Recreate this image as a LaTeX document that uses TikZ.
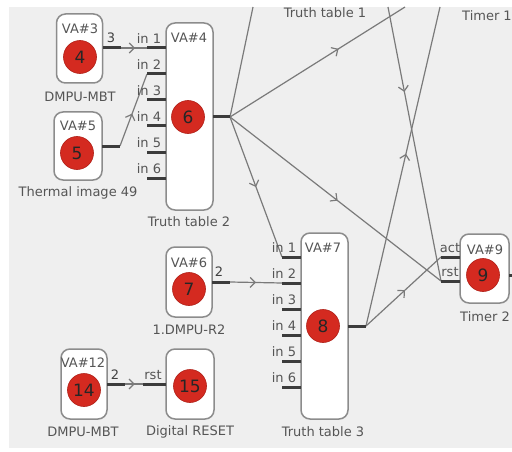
\documentclass[tikz,border=0pt]{standalone}
\usepackage{fontspec}
\setmainfont{DejaVu Sans}
\usetikzlibrary{arrows.meta,decorations.markings}
\definecolor{bg}{HTML}{EFEFEF}
\definecolor{wire}{HTML}{7A7A7A}
\definecolor{stubc}{HTML}{3C3C3C}
\definecolor{boxc}{HTML}{8C8C8C}
\definecolor{dotred}{HTML}{D42A20}
\definecolor{dotedge}{HTML}{B01E16}
\definecolor{txt}{HTML}{555555}
\tikzset{
  box/.style={draw=boxc, line width=1.5pt, fill=white, rounded corners=9pt, inner sep=0pt},
  dot/.style={circle, fill=dotred, draw=dotedge, line width=0.6pt, minimum size=33pt, inner sep=0pt, font=\fontsize{17}{17}\selectfont, text=black!85},
  lbl/.style={font=\fontsize{13}{13}\selectfont, text=txt, inner sep=0pt},
  num/.style={font=\fontsize{13}{13}\selectfont, text=black!75, inner sep=0pt},
  stubline/.style={draw=stubc, line width=3pt},
  wireline/.style={color=wire, line width=1.2pt},
  arr/.style={postaction={decorate}, decoration={markings, mark=at position #1 with {\arrow{Straight Barb[length=5pt,width=10pt]}}}},
}
\begin{document}
\begin{tikzpicture}[x=1pt,y=-1pt]
\useasboundingbox (0,0) rectangle (512,452);
\fill[bg] (9,7) rectangle (512,448);
\begin{scope}
\clip (9,7) rectangle (512,448);
% ---- connection points
\coordinate (o3) at (121,48);
\coordinate (o4) at (230,117);
\coordinate (o5) at (120,146);
\coordinate (o6) at (230,282);
\coordinate (o7) at (366,326);
\coordinate (o12) at (125,384);
\coordinate (r15) at (143,384);
\coordinate (a9) at (441,257);
\coordinate (r9) at (441,281);
\coordinate (top1) at (253,7);
\coordinate (top2) at (405,7);
\coordinate (top3) at (388,7);
\coordinate (top4) at (440,7);
\foreach \k/\y in {1/48,2/74,3/100,4/126,5/152,6/178}{\coordinate (i4-\k) at (147,\y);}
\foreach \k/\y in {1/257,2/283,3/309,4/335,5/361,6/387}{\coordinate (i7-\k) at (282,\y);}
% ---- wires
\draw[wireline] (o4) -- (top1);
\draw[wireline, arr=0.62] (o4) -- (top2);
\draw[wireline, arr=0.51] (o4) -- (r9);
\draw[wireline, arr=0.5] (o4) -- (i7-1);
\draw[wireline, arr=0.31] (top3) -- (r9);
\draw[wireline, arr=0.54] (o7) -- (top4);
\draw[wireline, arr=0.52] (o7) -- (a9);
\draw[wireline, arr=0.5] (o6) -- (i7-2);
\draw[wireline, arr=0.54] (o3) -- (i4-1);
\draw[wireline, arr=0.45] (o5) -- (i4-2);
\draw[wireline, arr=0.55] (o12) -- (r15);
% ---- top labels
\node[lbl] (tt1) at (325,13) {Truth table 1};
\node[lbl, anchor=west] (tm1) at (462,16) {Timer 1};
% ---- VA#3
\node[box, minimum width=46pt, minimum height=69pt] (b3) at (79.5,48.5) {};
\draw[stubline] (103,48) -- (o3);
\node[dot] (d4) at (80,57) {4};
\node[lbl] (t3) at (80,29) {VA\#3};
\node[lbl] (n3) at (80,97) {DMPU-MBT};
\node[num] (q3) at (111,38) {3};
% ---- VA#4
\node[box, minimum width=47pt, minimum height=187pt] (b4) at (189.5,116.5) {};
\foreach \k/\y in {1/48,2/74,3/100,4/126,5/152,6/178}{
  \draw[stubline] (i4-\k) -- (166,\y);
  \node[lbl] (l4-\k) at (149,\y-9) {in \k};
}
\draw[stubline] (213,117) -- (o4);
\node[dot] (d6) at (188,117) {6};
\node[lbl] (t4) at (189,38) {VA\#4};
\node[lbl] (n4) at (189,222) {Truth table 2};
% ---- VA#5
\node[box, minimum width=48pt, minimum height=68pt] (b5) at (78,146) {};
\draw[stubline] (102,146) -- (o5);
\node[dot] (d5) at (77,153) {5};
\node[lbl] (t5) at (78,126) {VA\#5};
\node[lbl] (n5) at (78,193) {Thermal image 49};
% ---- VA#6
\node[box, minimum width=46pt, minimum height=70pt] (b6) at (189,282) {};
\draw[stubline] (212,282) -- (o6);
\node[dot] (d7) at (189,289) {7};
\node[lbl] (t6) at (189,263) {VA\#6};
\node[lbl] (n6) at (189,330) {1.DMPU-R2};
\node[num] (q6) at (219,272) {2};
% ---- VA#7
\node[box, minimum width=47pt, minimum height=186pt] (b7) at (324.5,326) {};
\foreach \k/\y in {1/257,2/283,3/309,4/335,5/361,6/387}{
  \draw[stubline] (i7-\k) -- (301,\y);
  \node[lbl] (l7-\k) at (284,\y-9) {in \k};
}
\draw[stubline] (348,326) -- (o7);
\node[dot] (d8) at (323,326) {8};
\node[lbl] (t7) at (323,248) {VA\#7};
\node[lbl] (n7) at (323,432) {Truth table 3};
% ---- VA#9
\node[box, minimum width=49pt, minimum height=69pt] (b9) at (484.5,268.5) {};
\draw[stubline] (a9) -- (460,257);
\draw[stubline] (r9) -- (460,281);
\draw[stubline] (509,275) -- (514,275);
\node[dot] (d9) at (483,275) {9};
\node[lbl] (t9) at (485,250) {VA\#9};
\node[lbl] (la9) at (450,248) {act};
\node[lbl] (lr9) at (450,272) {rst};
\node[lbl] (n9) at (485,317) {Timer 2};
% ---- VA#12
\node[box, minimum width=46pt, minimum height=70pt] (b12) at (84,384) {};
\draw[stubline] (107,384) -- (o12);
\node[dot] (d14) at (84,390) {14};
\node[lbl] (t12) at (83,363) {VA\#12};
\node[lbl] (n12) at (83,432) {DMPU-MBT};
\node[num] (q12) at (115,375) {2};
% ---- VA#15
\node[box, minimum width=48pt, minimum height=70pt] (b15) at (190,384) {};
\draw[stubline] (r15) -- (166,384);
\node[dot] (d15) at (190,386) {15};
\node[lbl] (lr15) at (153,375) {rst};
\node[lbl] (n15) at (190,432) {Digital RESET};
\end{scope}
\end{tikzpicture}
\end{document}
